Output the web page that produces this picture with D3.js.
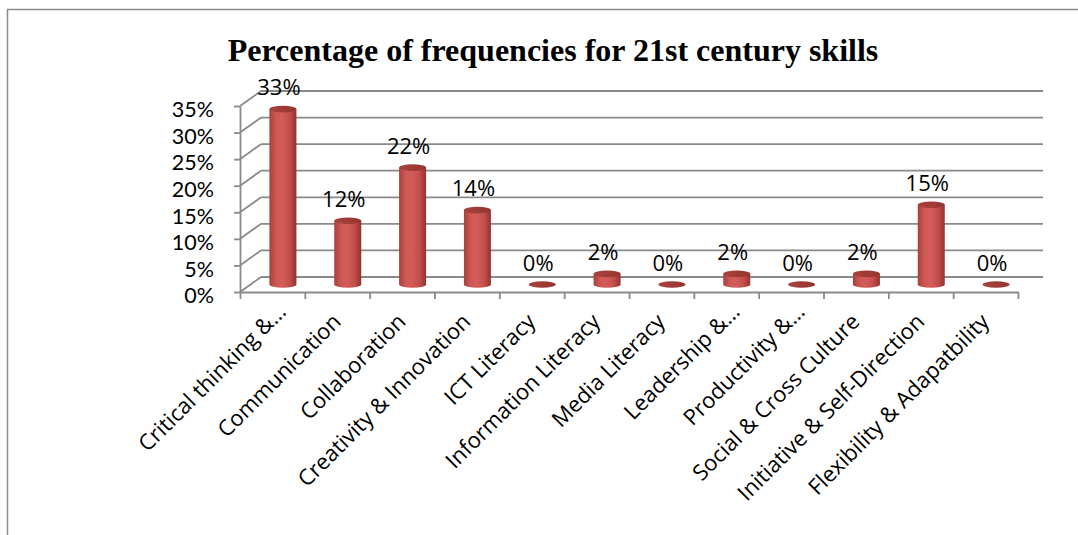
<!DOCTYPE html>
<html>
<head>
<meta charset="utf-8">
<script src="https://cdn.jsdelivr.net/npm/d3@7/dist/d3.min.js"></script>
<style>
  html, body { margin: 0; padding: 0; background: #fff; }
  svg { display: block; }
</style>
</head>
<body>
<svg id="chart" width="1078" height="535"></svg>
<script>
// ---- data ----
const title = "Percentage of frequencies for 21st century skills";
const categories = [
  "Critical thinking &…", "Communication", "Collaboration", "Creativity & Innovation",
  "ICT Literacy", "Information Literacy", "Media Literacy", "Leadership &…",
  "Productivity &…", "Social & Cross Culture", "Initiative & Self-Direction", "Flexibility & Adapatbility"
];
const values = [0.33, 0.12, 0.22, 0.14, 0.00, 0.02, 0.00, 0.02, 0.00, 0.02, 0.15, 0.00];
const yTicks = [0, 0.05, 0.10, 0.15, 0.20, 0.25, 0.30, 0.35];

// ---- layout ----
const svg = d3.select("#chart");
const W = 1078, H = 535;
const plotLeft = 240, plotRight = 1018;
const depthX = 21, depthY = -15;
const backRight = 1043;
const rx = 13.5, ry = 3.3;
const gridColor = "#8a8a8a";
const fontFam = "'Open Sans', 'Noto Sans', sans-serif";

const x = d3.scaleBand().domain(categories).range([plotLeft, plotRight]).padding(0);
const xIdx = d3.scaleLinear().domain([0, categories.length]).range([plotLeft, plotRight]);
const y = d3.scaleLinear().domain([0, 0.35]).range([292, 106]);

// frame
svg.append("path")
  .attr("d", `M7.5,${H} L7.5,9.5 L${W},9.5`)
  .attr("fill", "none").attr("stroke", "#8c8c8c").attr("stroke-width", 1.5);

// title
svg.append("text")
  .attr("x", 553).attr("y", 61)
  .attr("text-anchor", "middle")
  .attr("font-family", "'Liberation Serif', 'Times New Roman', serif")
  .attr("font-weight", "bold").attr("font-size", 32)
  .text(title);

// back wall gridlines + side wall diagonals
const grid = svg.append("g").attr("stroke", gridColor).attr("stroke-width", 1.8).attr("fill", "none");
yTicks.forEach(t => {
  grid.append("line")
    .attr("x1", plotLeft + depthX).attr("y1", y(t) + depthY)
    .attr("x2", backRight).attr("y2", y(t) + depthY);
  grid.append("line")
    .attr("x1", plotLeft).attr("y1", y(t))
    .attr("x2", plotLeft + depthX).attr("y2", y(t) + depthY);
});

// y axis (front)
const yAxis = svg.append("g")
  .attr("transform", `translate(${plotLeft},0)`)
  .call(d3.axisLeft(y).tickValues(yTicks).tickSize(6).tickSizeOuter(0).tickFormat(d3.format(".0%")));
yAxis.selectAll("path, line").attr("stroke", gridColor).attr("stroke-width", 1.8);
yAxis.selectAll("text")
  .attr("font-family", "Lato, 'Open Sans', sans-serif").attr("font-size", 21.5).attr("fill", "#000")
  .attr("x", -26).attr("dy", "0.5em");

// x axis (front)
const xAxis = svg.append("g")
  .attr("transform", `translate(0,${y(0)})`)
  .call(d3.axisBottom(xIdx).ticks(categories.length).tickSize(7).tickSizeOuter(0).tickFormat(""));
xAxis.selectAll("path, line").attr("stroke", gridColor).attr("stroke-width", 1.8);

// x labels
svg.append("g").selectAll("text").data(categories).join("text")
  .attr("transform", d => `translate(${x(d) + x.bandwidth() / 2 + 5},323) rotate(-45)`)
  .attr("text-anchor", "end")
  .attr("dx", d => d.endsWith("…") ? 14 : 0)
  .attr("font-family", fontFam).attr("font-size", 22).attr("fill", "#000")
  .text(d => d);

// gradients
const defs = svg.append("defs");
const bodyGrad = defs.append("linearGradient").attr("id", "body").attr("x1", "0").attr("x2", "1").attr("y1", "0").attr("y2", "0");
[["0%", "#a8403c"], ["25%", "#cf5855"], ["45%", "#d45d5a"], ["75%", "#c24f4c"], ["100%", "#93322f"]]
  .forEach(([o, c]) => bodyGrad.append("stop").attr("offset", o).attr("stop-color", c));
const topGrad = defs.append("linearGradient").attr("id", "top").attr("x1", "0").attr("x2", "1").attr("y1", "0").attr("y2", "0");
[["0%", "#a9423f"], ["100%", "#95352f"]]
  .forEach(([o, c]) => topGrad.append("stop").attr("offset", o).attr("stop-color", c));

// cylinders
const bars = svg.append("g");
categories.forEach((c, i) => {
  const v = values[i];
  const cx = x(c) + x.bandwidth() / 2 + depthX / 2;
  const yb = y(0) + depthY / 2;
  const yt = y(v) + depthY / 2;
  if (yb - yt > 0.5) {
    bars.append("path")
      .attr("d", `M${cx - rx},${yt} L${cx - rx},${yb} A${rx},${ry} 0 0 0 ${cx + rx},${yb} L${cx + rx},${yt} Z`)
      .attr("fill", "url(#body)");
  }
  bars.append("ellipse")
    .attr("cx", cx).attr("cy", yt).attr("rx", rx).attr("ry", ry)
    .attr("fill", "url(#top)");
  // data label
  svg.append("text")
    .attr("x", cx - 4).attr("y", yt - 14)
    .attr("text-anchor", "middle")
    .attr("font-family", fontFam).attr("font-size", 22).attr("fill", "#000")
    .text(d3.format(".0%")(v));
});
</script>
</body>
</html>
